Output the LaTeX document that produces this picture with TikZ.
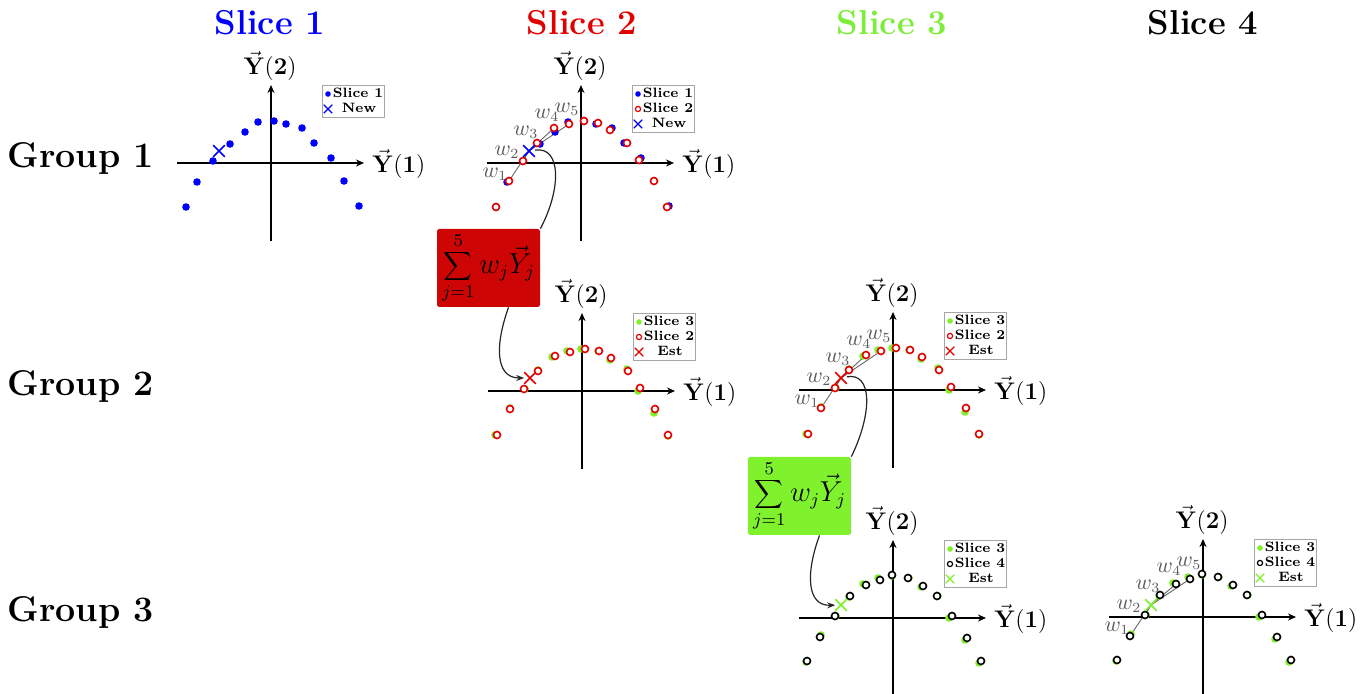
\documentclass[tikz,border=0pt]{standalone}
\usetikzlibrary{arrows.meta,shapes.misc,calc}
\definecolor{myblue}{RGB}{0,0,255}
\definecolor{myred}{RGB}{225,0,0}
\definecolor{mygreen}{RGB}{128,240,40}
\definecolor{titlegreen}{RGB}{125,238,55}
\definecolor{boxred}{RGB}{205,5,5}
\definecolor{boxgreen}{RGB}{128,242,45}
\tikzset{
 axis/.style={line width=0.9pt,-{Stealth[length=4pt,width=3.5pt]}},
 axlab/.style={inner sep=0pt,font=\fontsize{12}{14}\selectfont},
 titletext/.style={inner sep=0pt,font=\fontsize{17.28}{20}\selectfont\bfseries},
 grouptext/.style={inner sep=0pt,font=\fontsize{17.9}{20}\selectfont\bfseries},
 legframe/.style={draw=black!35,fill=white,line width=0.4pt},
 legtext/.style={inner sep=0pt,font=\fontsize{6.8}{8}\selectfont\bfseries,anchor=base},
 xmark/.style={cross out,draw=#1,line width=0.8pt,minimum size=5pt,inner sep=0pt},
 xleg/.style={cross out,draw=#1,line width=0.65pt,minimum size=3.6pt,inner sep=0pt},
 wline/.style={draw=black!60,line width=0.45pt},
 wlab/.style={inner sep=0pt,text=black!65,font=\fontsize{10.5}{12}\selectfont},
 sumbox/.style={fill=#1,rounded corners=1.2pt,minimum width=51.5pt,minimum height=39pt,inner sep=0pt,font=\fontsize{13.5}{16}\selectfont},
 conn/.style={line width=0.6pt,draw=black!85},
 connarr/.style={conn,-{Stealth[length=4pt,width=3pt]}},
}
\def\Sone{-85/44, -74/19, -58/-2, -41/-19, -26/-31, -13/-41, 3/-42, 15/-39, 31/-35, 43/-20, 60/-5, 73/18, 88/43}
\def\Stwo{-85/44, -72/18, -58/-2, -44/-20, -27/-35, -12/-39, 3/-42, 17/-40, 29/-33, 46/-20, 58/-3, 73/18, 86/44}
\def\Sthree{-87/44, -72/17, -57/-2, -44/-21, -30/-34, -15/-40, -1/-42, 16/-40, 28/-31, 45/-22, 56/0, 72/22, 86/45}
\def\Sfour{-86/43, -73/19, -58/-2, -43/-22, -27/-33, -13/-38, -1/-43, 15/-40, 30/-32, 44/-22, 59/-2, 74/20, 88/43}
\def\Wtwo{-72/18, -58/-2, -44/-20, -27/-35, -12/-39}
\def\Wfour{-73/19, -58/-2, -43/-22, -27/-33, -13/-38}
\newcommand\plotaxes[1]{%
 \draw[axis] (-94,0) -- (93,0);
 \draw[axis] (0,78) -- (0,-78);
 \node[axlab,anchor=base west] (#1x) at (101,10) {$\vec{\mathbf{Y}}(\mathbf{1})$};
 \node[axlab,anchor=base] (#1y) at (-1,-88) {$\vec{\mathbf{Y}}(\mathbf{2})$};
}
\newcommand\drawfilled[2]{\foreach \px/\py in #2 {\fill[#1] (\px,\py) circle[radius=1.9pt];}}
\newcommand\drawring[2]{\foreach \px/\py in #2 {\draw[#1,line width=0.8pt,fill=white] (\px,\py) circle[radius=1.75pt];}}
\newcommand\wlines[2]{\foreach \px/\py in #2 {\draw[wline] (#1) -- (\px,\py);}}
\newcommand\wlabels[1]{%
 \node[wlab] (#1w1) at (-86,11) {$w_1$};
 \node[wlab] (#1w2) at (-74,-11) {$w_2$};
 \node[wlab] (#1w3) at (-55,-31) {$w_3$};
 \node[wlab] (#1w4) at (-34,-48) {$w_4$};
 \node[wlab] (#1w5) at (-14,-54) {$w_5$};
}
\begin{document}
\begin{tikzpicture}[x=0.5pt,y=-0.5pt]
\useasboundingbox (0,0) rectangle (1366,694);
\fill[white] (0,0) rectangle (1366,694);
% titles
\node[titletext,text=myblue,anchor=base] (t1) at (270,35) {Slice 1};
\node[titletext,text=myred,anchor=base] (t2) at (582,35) {Slice 2};
\node[titletext,text=titlegreen,anchor=base] (t3) at (892,35) {Slice 3};
\node[titletext,text=black,anchor=base] (t4) at (1203,35) {Slice 4};
\node[grouptext,anchor=base west] (g1) at (7,168) {Group 1};
\node[grouptext,anchor=base west] (g2) at (7,396) {Group 2};
\node[grouptext,anchor=base west] (g3) at (7,622) {Group 3};
% plot A
\begin{scope}[shift={(271,163)}]
 \plotaxes{A}
 \drawfilled{myblue}{\Sone}
 \node[xmark=myblue] (newA) at (-52,-12) {};
 \draw[legframe] (51,-78) rectangle (113,-46);
 \fill[myblue] (57,-69) circle[radius=1.4pt];
 \node[legtext] (Al1) at (87,-65) {Slice 1};
 \node[xleg=myblue] (Am2) at (57,-54) {};
 \node[legtext] (Al2) at (88,-50) {New};
\end{scope}
% plot B
\begin{scope}[shift={(581,163)}]
 \plotaxes{B}
 \coordinate (cB) at (-52,-12);
 \wlines{cB}{\Wtwo}
 \drawfilled{myblue}{\Sone}
 \drawring{myred}{\Stwo}
 \node[xmark=myblue] (newB) at (cB) {};
 \wlabels{B}
 \draw[legframe] (51,-78) rectangle (113,-31);
 \fill[myblue] (57,-69) circle[radius=1.4pt];
 \node[legtext] (Bl1) at (87,-65) {Slice 1};
 \draw[myred,line width=0.6pt] (57,-54) circle[radius=1.3pt];
 \node[legtext] (Bl2) at (87,-50) {Slice 2};
 \node[xleg=myblue] (Bm3) at (57,-39) {};
 \node[legtext] (Bl3) at (88,-35) {New};
\end{scope}
% plot C
\begin{scope}[shift={(582,391)}]
 \plotaxes{C}
 \drawfilled{mygreen}{\Sthree}
 \drawring{myred}{\Stwo}
 \node[xmark=myred] (estC) at (-52,-13) {};
 \draw[legframe] (51,-78) rectangle (113,-31);
 \fill[mygreen] (57,-69) circle[radius=1.4pt];
 \node[legtext] (Cl1) at (87,-65) {Slice 3};
 \draw[myred,line width=0.6pt] (57,-54) circle[radius=1.3pt];
 \node[legtext] (Cl2) at (87,-50) {Slice 2};
 \node[xleg=myred] (Cm3) at (57,-39) {};
 \node[legtext] (Cl3) at (88,-35) {Est};
\end{scope}
% plot D
\begin{scope}[shift={(893,390)}]
 \plotaxes{D}
 \coordinate (cD) at (-52,-12);
 \wlines{cD}{\Wtwo}
 \drawfilled{mygreen}{\Sthree}
 \drawring{myred}{\Stwo}
 \node[xmark=myred] (estD) at (cD) {};
 \wlabels{D}
 \draw[legframe] (51,-78) rectangle (113,-31);
 \fill[mygreen] (57,-69) circle[radius=1.4pt];
 \node[legtext] (Dl1) at (87,-65) {Slice 3};
 \draw[myred,line width=0.6pt] (57,-54) circle[radius=1.3pt];
 \node[legtext] (Dl2) at (87,-50) {Slice 2};
 \node[xleg=myred] (Dm3) at (57,-39) {};
 \node[legtext] (Dl3) at (88,-35) {Est};
\end{scope}
% plot E
\begin{scope}[shift={(893,618)}]
 \plotaxes{E}
 \drawfilled{mygreen}{\Sthree}
 \drawring{black}{\Sfour}
 \node[xmark=mygreen] (estE) at (-52,-13) {};
 \draw[legframe] (51,-78) rectangle (113,-31);
 \fill[mygreen] (57,-69) circle[radius=1.4pt];
 \node[legtext] (El1) at (87,-65) {Slice 3};
 \draw[black,line width=0.6pt] (57,-54) circle[radius=1.3pt];
 \node[legtext] (El2) at (87,-50) {Slice 4};
 \node[xleg=mygreen] (Em3) at (57,-39) {};
 \node[legtext] (El3) at (88,-35) {Est};
\end{scope}
% plot F
\begin{scope}[shift={(1203,617)}]
 \plotaxes{F}
 \coordinate (cF) at (-52,-12);
 \wlines{cF}{\Wfour}
 \drawfilled{mygreen}{\Sthree}
 \drawring{black}{\Sfour}
 \node[xmark=mygreen] (estF) at (cF) {};
 \wlabels{F}
 \draw[legframe] (51,-78) rectangle (113,-31);
 \fill[mygreen] (57,-69) circle[radius=1.4pt];
 \node[legtext] (Fl1) at (87,-65) {Slice 3};
 \draw[black,line width=0.6pt] (57,-54) circle[radius=1.3pt];
 \node[legtext] (Fl2) at (87,-50) {Slice 4};
 \node[xleg=mygreen] (Fm3) at (57,-39) {};
 \node[legtext] (Fl3) at (88,-35) {Est};
\end{scope}
% sum boxes
\node[sumbox=boxred] (redbox) at (488.5,268) {$\displaystyle\sum_{j=1}^{5} w_j\vec{Y}_j$};
\node[sumbox=boxgreen] (greenbox) at (799.5,496) {$\displaystyle\sum_{j=1}^{5} w_j\vec{Y}_j$};
% connectors
\draw[conn] (newB) .. controls (562,146) and (561,190) .. (redbox.north east);
\draw[connarr] ($(redbox.south)+(20,0)$) .. controls (495,345) and (495,378) .. (estC);
\draw[conn] (estD) .. controls (872,372) and (873,412) .. (greenbox.north east);
\draw[connarr] ($(greenbox.south)+(20,0)$) .. controls (806,572) and (806,606) .. (estE);
\end{tikzpicture}
\end{document}
